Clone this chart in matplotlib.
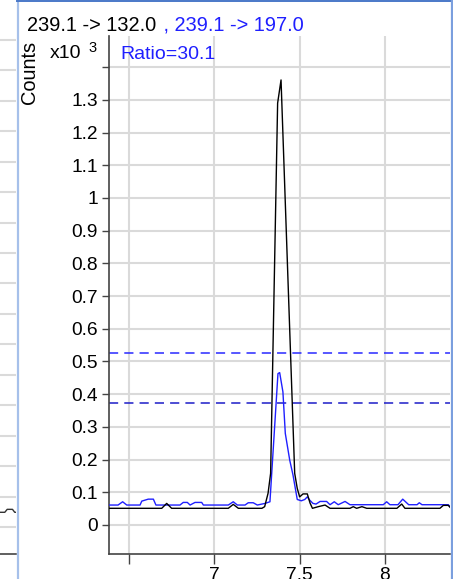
import matplotlib
matplotlib.use("Agg")
import matplotlib.pyplot as plt
from matplotlib.lines import Line2D

plt.rcParams['font.family'] = ['Liberation Sans', 'DejaVu Sans']

# Quantifier transition 239.1 -> 132.0 (black)
quant_t = [6.383, 6.692, 6.721, 6.750, 7.082, 7.111, 7.141, 7.279, 7.295, 7.315,
           7.330, 7.371, 7.391, 7.471, 7.486, 7.500, 7.520, 7.545, 7.561, 7.575,
           7.609, 7.649, 7.678, 7.795, 7.814, 7.834, 7.865, 7.893, 8.070, 8.098,
           8.117, 8.322, 8.342, 8.371, 8.387]
quant_y = [0.051, 0.051, 0.066, 0.051, 0.051, 0.063, 0.051, 0.051, 0.056, 0.097,
           0.158, 1.290, 1.361, 0.158, 0.112, 0.086, 0.095, 0.095, 0.067, 0.051,
           0.056, 0.061, 0.051, 0.051, 0.056, 0.051, 0.056, 0.051, 0.051, 0.064,
           0.051, 0.051, 0.060, 0.060, 0.051]

# Qualifier transition 239.1 -> 197.0 (blue)
qual_t = [6.383, 6.436, 6.463, 6.487, 6.565, 6.575, 6.613, 6.643, 6.658, 6.799,
          6.818, 6.842, 6.858, 6.887, 6.926, 6.936, 7.082, 7.111, 7.135, 7.180,
          7.199, 7.228, 7.252, 7.297, 7.326, 7.373, 7.383, 7.402, 7.416, 7.442,
          7.461, 7.486, 7.510, 7.530, 7.545, 7.559, 7.578, 7.596, 7.620, 7.658,
          7.678, 7.703, 7.726, 7.766, 7.795, 7.990, 8.010, 8.029, 8.076, 8.104,
          8.139, 8.188, 8.201, 8.217, 8.371, 8.381]
qual_y = [0.061, 0.061, 0.071, 0.061, 0.061, 0.073, 0.079, 0.079, 0.061, 0.061,
          0.069, 0.069, 0.061, 0.069, 0.069, 0.061, 0.061, 0.071, 0.061, 0.061,
          0.068, 0.068, 0.061, 0.066, 0.071, 0.463, 0.466, 0.407, 0.280, 0.198,
          0.153, 0.078, 0.074, 0.078, 0.086, 0.076, 0.066, 0.064, 0.072, 0.072,
          0.062, 0.071, 0.062, 0.072, 0.062, 0.062, 0.071, 0.062, 0.062, 0.079,
          0.062, 0.062, 0.068, 0.062, 0.062, 0.056]

# Qualifier ratio tolerance window
ratio_upper = 0.526
ratio_lower = 0.373

x_ticks = [6.5, 7.0, 7.5, 8.0]
x_tick_labels = ['', '7', '7.5', '8']
y_ticks = [0.0, 0.1, 0.2, 0.3, 0.4, 0.5, 0.6, 0.7, 0.8, 0.9, 1.0, 1.1, 1.2, 1.3, 1.4]
y_tick_labels = ['0', '0.1', '0.2', '0.3', '0.4', '0.5', '0.6', '0.7', '0.8', '0.9',
                 '1', '1.1', '1.2', '1.3', '']

# Neighbouring panel (only its right edge is visible)
prev_t = [0.0, 0.30, 0.45, 0.78, 0.92, 1.0]
prev_y = [0.483, 0.483, 0.58, 0.58, 0.483, 0.483]
prev_grid = list(range(17))

W, H = 453, 579
fig = plt.figure(figsize=(W / 100, H / 100), dpi=100)
fig.patch.set_facecolor('white')

def fx(px):
    return px / W

def fy(py):
    return 1 - py / H

grid_color = '#dadada'
spine_color = '#444444'
blue = '#1f1fff'

# ---- neighbouring panel sliver ----
axp = fig.add_axes([0, fy(554), fx(16), fy(36) - fy(554)])
axp.set_xlim(0, 1)
axp.set_ylim(-0.887, 16.13)
for g in prev_grid:
    axp.axhline(g, color=grid_color, lw=1.5, zorder=0)
axp.plot(prev_t, prev_y, color='#333333', lw=1.0)
for s in ['top', 'right', 'left']:
    axp.spines[s].set_visible(False)
axp.spines['bottom'].set_color(spine_color)
axp.spines['bottom'].set_linewidth(1.2)
axp.set_xticks([])
axp.set_yticks([])

# ---- main chromatogram ----
ax = fig.add_axes([fx(109), fy(553.5), fx(450) - fx(109), fy(36) - fy(553.5)])
ax.set_xlim(6.383, 8.381)
ax.set_ylim(-0.0872, 1.4954)
ax.set_xticks(x_ticks)
ax.set_xticklabels(x_tick_labels)
ax.set_yticks(y_ticks)
ax.set_yticklabels(y_tick_labels)
ax.grid(True, color=grid_color, lw=1.5, zorder=0)
ax.set_axisbelow(True)

ax.axhline(ratio_upper, color='#2828ff', lw=1.1, ls=(0, (6, 4)), zorder=2)
ax.axhline(ratio_lower, color='#1c1cc8', lw=1.1, ls=(0, (6, 4)), zorder=2)
ax.plot(qual_t, qual_y, color=blue, lw=1.0, zorder=3)
ax.plot(quant_t, quant_y, color='black', lw=1.0, zorder=4)

for s in ['top', 'right']:
    ax.spines[s].set_visible(False)
for s in ['left', 'bottom']:
    ax.spines[s].set_color(spine_color)
    ax.spines[s].set_linewidth(1.2)
ax.tick_params(axis='y', direction='out', length=5, width=1.0, color=spine_color,
               pad=3, labelsize=13.8, labelcolor='black')
ax.tick_params(axis='x', direction='out', length=7, width=1.0, color=spine_color,
               pad=3, labelsize=13.8, labelcolor='black')

# ---- texts ----
fig.text(fx(27), fy(30.7), '239.1 -> 132.0', fontsize=14.4, color='black',
         ha='left', va='baseline')
fig.text(fx(158), fy(30.7), ' , 239.1 -> 197.0', fontsize=14.4, color=blue,
         ha='left', va='baseline')
fig.text(fx(30), fy(72), 'Counts', fontsize=14.4, rotation=90, ha='center',
         va='center')
fig.text(fx(50), fy(58.3), 'x10', fontsize=14, ha='left', va='baseline')
fig.text(fx(88), fy(51.5), '3', fontsize=10.5, ha='left', va='baseline')
fig.text(fx(120), fy(59.3), 'Ratio=30.1', fontsize=14, color=blue, ha='left',
         va='baseline')

# ---- panel frame ----
fig.add_artist(Line2D([fx(17.5), fx(17.5)], [0, 1], transform=fig.transFigure,
                      color='#a6c0ea', lw=1.6))
fig.add_artist(Line2D([fx(17), 1], [fy(1), fy(1)], transform=fig.transFigure,
                      color='#4a78c8', lw=1.4))
fig.add_artist(Line2D([fx(451.8), fx(451.8)], [0, fy(1)], transform=fig.transFigure,
                      color='#7b9fde', lw=1.6))

fig.savefig('out.png', dpi=100)
